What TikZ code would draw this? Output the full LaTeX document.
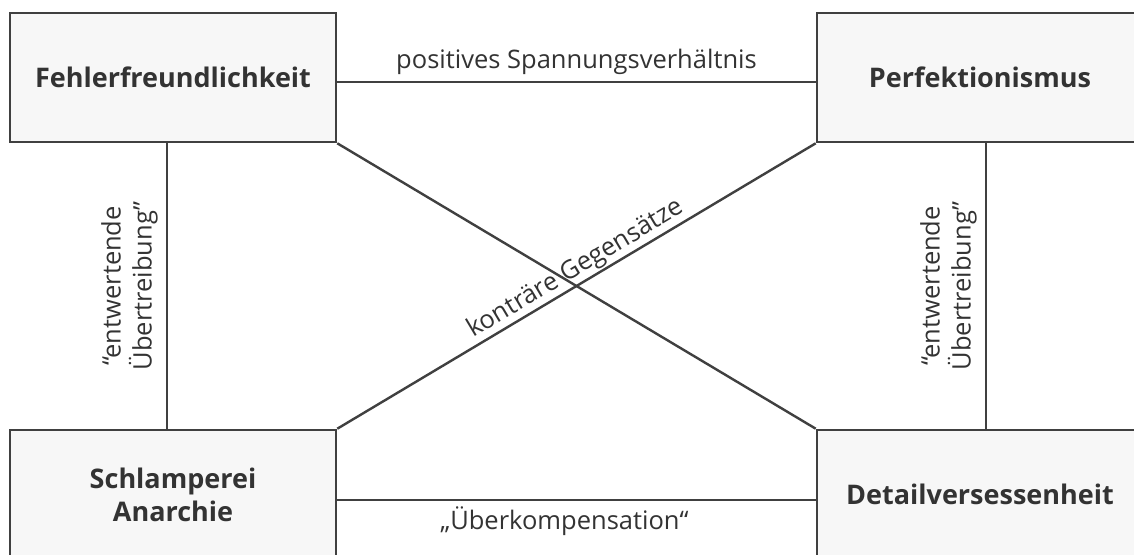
\documentclass[tikz,border=0pt]{standalone}
\usepackage{fontspec}
\setmainfont{Open Sans}
\definecolor{linec}{HTML}{404040}
\definecolor{boxfill}{HTML}{F7F7F7}
\definecolor{textc}{HTML}{333333}
\tikzset{
  conceptbox/.style={rectangle, draw=linec, fill=boxfill, line width=2.6pt,
    minimum width=326pt, minimum height=129pt, inner sep=0pt, align=center,
    text=textc, font=\fontsize{27}{33}\selectfont\bfseries},
  conn/.style={draw=linec, line width=2.4pt},
  lbl/.style={text=textc, font=\fontsize{25.5}{31}\selectfont, inner sep=0pt, align=center},
  vlbl/.style={lbl, midway, rotate=90, anchor=south, inner ysep=8pt}
}
\begin{document}
\begin{tikzpicture}[x=1pt,y=-1pt]
\path[use as bounding box, fill=white] (0,0) rectangle (1134,554);
\clip (0,0) rectangle (1134,554);
\node[conceptbox] (tl) at (173,77.5) {Fehlerfreundlichkeit};
\node[conceptbox] (tr) at (980,77.5) {Perfektionismus};
\node[conceptbox] (bl) at (173,494.5) {Schlamperei\\Anarchie};
\node[conceptbox] (br) at (980,494.5) {Detailversessenheit};
% horizontal connectors
\draw[conn] ([yshift=-4.5pt]tl.east) -- node[lbl, midway, anchor=south, yshift=6pt] {positives Spannungsverhältnis} ([yshift=-4.5pt]tr.west);
\draw[conn] ([yshift=-5.5pt]bl.east) -- node[lbl, midway, anchor=north, yshift=-6pt, xshift=-12pt] {„Überkompensation“} ([yshift=-5.5pt]br.west);
% vertical connectors
\draw[conn] ([xshift=-6pt]tl.south) -- node[vlbl] {“entwertende\\Übertreibung”} ([xshift=-6pt]bl.north);
\draw[conn] ([xshift=6pt]tr.south) -- node[vlbl] {“entwertende\\Übertreibung”} ([xshift=6pt]br.north);
% diagonals
\draw[conn] (tl.south east) -- (br.north west);
\draw[conn] (bl.north east) -- node[lbl, pos=0.515, sloped, anchor=south, inner sep=1pt] {konträre Gegensätze} (tr.south west);
\end{tikzpicture}
\end{document}
